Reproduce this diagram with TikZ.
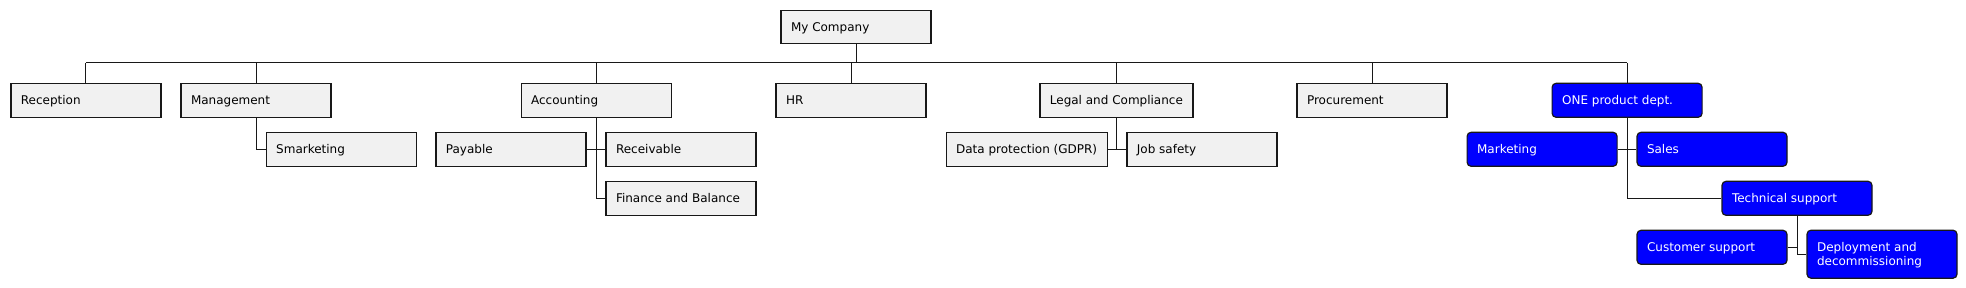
\documentclass[tikz,border=0pt]{standalone}
\usepackage{fontspec}
\setmainfont{DejaVu Sans}
\definecolor{boxgray}{HTML}{F1F1F1}
\definecolor{boxline}{HTML}{181818}
\definecolor{blueb}{HTML}{0000FF}
\newcommand{\padbox}[1]{\setbox0\hbox{#1}\ifdim\wd0<130pt\hbox to 130pt{#1\hfil}\else\box0\fi}
\tikzset{
  wbs/.style={draw=boxline, line width=1.2pt, fill=boxgray, anchor=west,
    inner xsep=10pt, inner ysep=0pt, text height=11pt, text depth=1.6pt,
    minimum height=34pt, font=\fontsize{12}{14}\selectfont, text=black},
  bluebox/.style={wbs, fill=blueb, text=white, rounded corners=4pt},
  conn/.style={draw=boxline, line width=1pt},
}
\begin{document}
\begin{tikzpicture}[x=1pt,y=-1pt]
\useasboundingbox (0,0) rectangle (1966,288);
% root
\node[wbs, minimum height=33pt] (comp) at (780.4,26.8) {\padbox{My Company}};
% level 1
\node[wbs] (rec)  at (10.3,100.3)   {\padbox{Reception}};
\node[wbs] (mgmt) at (180.4,100.3)  {\padbox{Management}};
\node[wbs] (acc)  at (520.5,100.3)  {\padbox{Accounting}};
\node[wbs] (hr)   at (775.4,100.3)  {\padbox{HR}};
\node[wbs] (legal) at (1039.3,100.3) {\padbox{Legal and Compliance}};
\node[wbs] (proc) at (1296.4,100.3) {\padbox{Procurement}};
\node[bluebox] (one) at (1551.5,100.3) {\padbox{ONE product dept.}};
% level 2
\node[wbs] (smk)  at (265.6,149.3) {\padbox{Smarketing}};
\node[wbs] (pay)  at (435.3,149.3) {\padbox{Payable}};
\node[wbs] (recv) at (605.4,149.3) {\padbox{Receivable}};
\node[wbs] (fin)  at (605.4,198.3) {\padbox{Finance and Balance}};
\node[wbs] (gdpr) at (945.5,149.3) {\padbox{Data protection (GDPR)}};
\node[wbs] (job)  at (1126.3,149.3) {\padbox{Job safety}};
\node[bluebox] (mkt)   at (1466.5,149.3) {\padbox{Marketing}};
\node[bluebox] (sales) at (1636.4,149.3) {\padbox{Sales}};
\node[bluebox] (tech)  at (1721.4,198.3) {\padbox{Technical support}};
\node[bluebox] (cust)  at (1636.4,247.3) {\padbox{Customer support}};
\node[bluebox, minimum height=48pt, text height={}, text depth={}] (dep) at (1806.4,254.2)
  {\vbox{\baselineskip=14pt\hbox to 130pt{\rule{0pt}{11pt}Deployment and\hfil}\hbox to 130pt{decommissioning\rule[-1.6pt]{0pt}{1.6pt}\hfil}}};
% bus
\coordinate (busL) at (rec.north |- 0,63);
\coordinate (busR) at (one.north |- 0,63);
\draw[conn] (comp.south) -- (comp.south |- busL);
\draw[conn] (busL) -- (busR);
\foreach \n in {rec,mgmt,acc,hr,legal,proc,one}
  \draw[conn] (\n.north |- busL) -- (\n.north);
% sub connectors
\draw[conn] (mgmt.south) |- (smk.west);
\draw[conn] (acc.south) |- (fin.west);
\draw[conn] (pay.east) -- (recv.west);
\coordinate (legalj) at (legal.south |- job.west);
\draw[conn] (legal.south) -- (legalj);
\draw[conn] (gdpr.east) -- (job.west);
\draw[conn] (one.south) |- (tech.west);
\draw[conn] (mkt.east) -- (sales.west);
\draw[conn] (tech.south) |- (dep.west);
\draw[conn] (cust.east) -- (cust.east -| tech.south);
\end{tikzpicture}
\end{document}
